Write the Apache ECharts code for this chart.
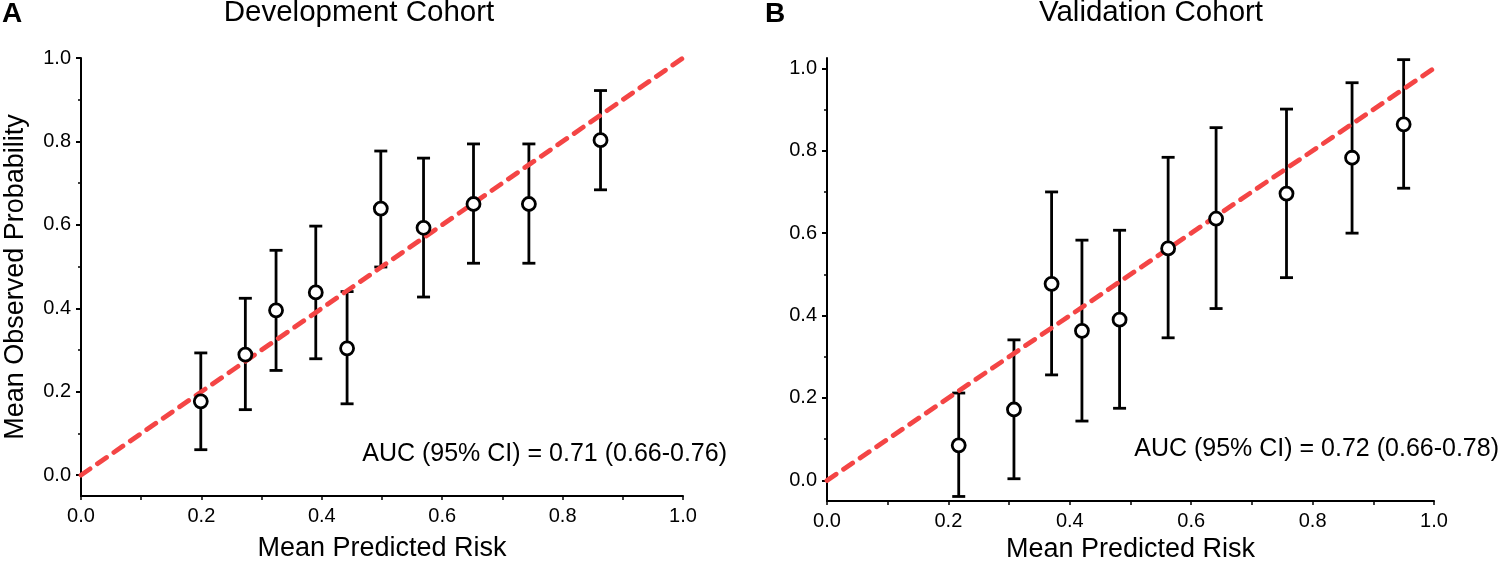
<!DOCTYPE html>
<html>
<head>
<meta charset="utf-8">
<script src="https://cdn.jsdelivr.net/npm/echarts@6/dist/echarts.min.js"></script>
<style>
html,body{margin:0;padding:0;background:#fff;}
#chart{width:1500px;height:563px;}
</style>
</head>
<body>
<div id="chart"></div>
<script>
// ---- Data ----
var devX  = [0.199, 0.273, 0.324, 0.390, 0.442, 0.498, 0.569, 0.652, 0.744, 0.863];
var devY  = [0.177, 0.289, 0.395, 0.438, 0.304, 0.639, 0.593, 0.650, 0.650, 0.803];
var devLo = [0.061, 0.157, 0.251, 0.279, 0.171, 0.499, 0.427, 0.508, 0.508, 0.684];
var devHi = [0.293, 0.424, 0.539, 0.597, 0.440, 0.777, 0.760, 0.794, 0.794, 0.922];

var valX  = [0.217, 0.308, 0.370, 0.420, 0.482, 0.562, 0.641, 0.757, 0.865, 0.950];
var valY  = [0.085, 0.172, 0.477, 0.363, 0.390, 0.563, 0.635, 0.696, 0.783, 0.864];
var valLo = [-0.039, 0.004, 0.256, 0.144, 0.175, 0.346, 0.417, 0.492, 0.600, 0.709];
var valHi = [0.212, 0.341, 0.700, 0.583, 0.607, 0.784, 0.856, 0.901, 0.965, 1.021];

var diagonal = [[0, 0], [1, 1]];
var yMajorTicks = [0, 0.2, 0.4, 0.6, 0.8, 1.0];
var yMinorTicks = [0.1, 0.3, 0.5, 0.7, 0.9];

var panelTitles = ['Development Cohort', 'Validation Cohort'];
var panelLetters = ['A', 'B'];
var aucTexts = ['AUC (95% CI) = 0.71 (0.66-0.76)', 'AUC (95% CI) = 0.72 (0.66-0.78)'];
var xName = 'Mean Predicted Risk';
var yName = 'Mean Observed Probability';

// ---- Chart ----
var FONT = "'Liberation Sans', Arial, Helvetica, sans-serif";
var chart = echarts.init(document.getElementById('chart'), null, {renderer: 'canvas'});

function zip(a, b) { return a.map(function (v, i) { return [v, b[i]]; }); }
function bars(x, lo, hi) { return x.map(function (v, i) { return [v, lo[i], hi[i]]; }); }

function xAxisFor(gi, gap) {
  return {
    type: 'value', gridIndex: gi, min: 0, max: 1, interval: 0.1,
    name: xName, nameLocation: 'middle', nameGap: gap,
    nameTextStyle: {fontFamily: FONT, fontSize: 27, color: '#000'},
    axisLine: {show: true, onZero: false, lineStyle: {color: '#000', width: 2}},
    axisTick: {show: true, length: 4, lineStyle: {color: '#000', width: 1.5}},
    axisLabel: {
      fontFamily: FONT, fontSize: 20, color: '#000', margin: 10,
      formatter: function (v) { return Math.round(v * 10) % 2 === 0 ? v.toFixed(1) : ''; }
    },
    splitLine: {show: false}
  };
}
function yAxisMajor(gi, max, withName) {
  return {
    type: 'value', gridIndex: gi, min: -0.05, max: max,
    name: withName ? yName : '', nameLocation: 'middle', nameGap: 52,
    nameTextStyle: {fontFamily: FONT, fontSize: 27, color: '#000'},
    axisLine: {show: true, lineStyle: {color: '#000', width: 2}},
    axisTick: {show: true, length: 5, customValues: yMajorTicks, lineStyle: {color: '#000', width: 2}},
    axisLabel: {
      fontFamily: FONT, fontSize: 20, color: '#000', margin: 10,
      customValues: yMajorTicks,
      formatter: function (v) { return v.toFixed(1); }
    },
    splitLine: {show: false}
  };
}
function yAxisMinor(gi, max) {
  return {
    type: 'value', gridIndex: gi, min: -0.05, max: max, position: 'left',
    axisLine: {show: false},
    axisTick: {show: true, length: 3, customValues: yMinorTicks, lineStyle: {color: '#000', width: 1.5}},
    axisLabel: {show: false},
    splitLine: {show: false}
  };
}

function errorSeries(xi, yi, data) {
  return {
    type: 'custom', xAxisIndex: xi, yAxisIndex: yi, z: 2,
    data: data,
    renderItem: function (params, api) {
      var x = api.value(0);
      var lo = api.coord([x, api.value(1)]);
      var hi = api.coord([x, api.value(2)]);
      var hw = 6.5;
      var st = {stroke: '#000', lineWidth: 2.8, fill: null};
      return {
        type: 'group',
        children: [
          {type: 'line', shape: {x1: lo[0], y1: lo[1], x2: hi[0], y2: hi[1]}, style: st},
          {type: 'line', shape: {x1: lo[0] - hw, y1: lo[1], x2: lo[0] + hw, y2: lo[1]}, style: st},
          {type: 'line', shape: {x1: hi[0] - hw, y1: hi[1], x2: hi[0] + hw, y2: hi[1]}, style: st}
        ]
      };
    }
  };
}
function diagSeries(xi, yi) {
  return {
    type: 'line', xAxisIndex: xi, yAxisIndex: yi, z: 3,
    data: diagonal, symbol: 'none', silent: true,
    lineStyle: {color: '#f44545', width: 4.8, type: [11, 9], cap: 'round'}
  };
}
function pointSeries(xi, yi, data) {
  return {
    type: 'scatter', xAxisIndex: xi, yAxisIndex: yi, z: 4,
    data: data, symbol: 'circle', symbolSize: 13,
    itemStyle: {color: '#fff', borderColor: '#000', borderWidth: 2.8, opacity: 1}
  };
}

function txt(text, x, y, size, align, bold) {
  return {
    type: 'text', x: x, y: y, z: 10,
    style: {
      text: text, fill: '#000',
      font: (bold ? 'bold ' : '') + size + 'px ' + FONT,
      textAlign: align, textVerticalAlign: 'middle'
    }
  };
}

var option = {
  backgroundColor: '#fff',
  animation: false,
  grid: [
    {left: 81, right: 817, top: 58, bottom: 67, outerBoundsMode: 'none', containLabel: false},
    {left: 827, right: 66, top: 58, bottom: 62, outerBoundsMode: 'none', containLabel: false}
  ],
  xAxis: [xAxisFor(0, 39), xAxisFor(1, 35)],
  yAxis: [yAxisMajor(0, 1.0, true), yAxisMinor(0, 1.0), yAxisMajor(1, 1.025, false), yAxisMinor(1, 1.025)],
  series: [
    errorSeries(0, 0, bars(devX, devLo, devHi)),
    diagSeries(0, 0),
    pointSeries(0, 0, zip(devX, devY)),
    errorSeries(1, 2, bars(valX, valLo, valHi)),
    diagSeries(1, 2),
    pointSeries(1, 2, zip(valX, valY))
  ],
  graphic: [
    txt(panelLetters[0], 2, 14, 28, 'left', true),
    txt(panelLetters[1], 765, 14, 28, 'left', true),
    txt(panelTitles[0], 359, 13, 29.5, 'center', false),
    txt(panelTitles[1], 1151, 13, 29.5, 'center', false),
    txt(aucTexts[0], 727, 454, 25, 'right', false),
    txt(aucTexts[1], 1499, 449, 25, 'right', false)
  ]
};
chart.setOption(option);
</script>
</body>
</html>
